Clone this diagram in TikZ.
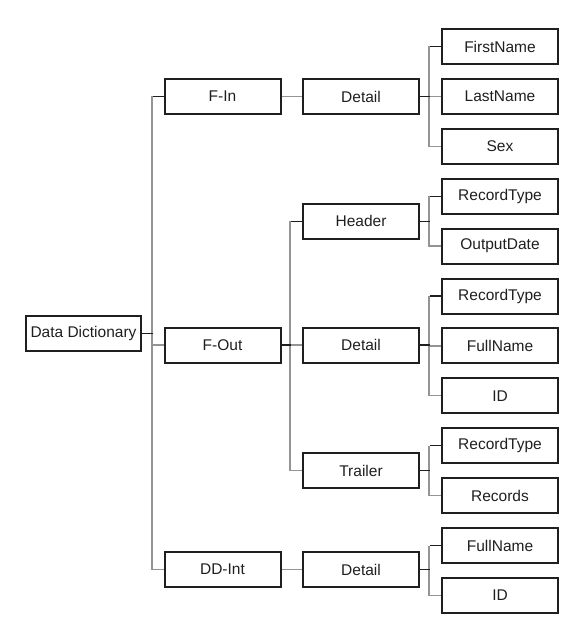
\documentclass[tikz,border=0pt]{standalone}
\usepackage{fontspec}
\setmainfont{Liberation Sans}
\tikzset{
  box/.style={draw=black!88, line width=2pt, minimum width=116pt, minimum height=35pt,
    inner sep=0pt, text=black!88, font=\fontsize{15.5}{18}\selectfont},
  bus/.style={draw=black!42, line width=1.3pt},
  stub/.style={draw=black!88, line width=1.3pt},
}
\begin{document}
\begin{tikzpicture}[x=1pt,y=-1pt]
\useasboundingbox (0,0) rectangle (581,636);

% bus lines
\coordinate (b1) at (153,0);
\coordinate (b2) at (291,0);
\coordinate (b3) at (430,0);

\node[box, minimum width=115pt] (dd) at (83.5,333.5) {Data Dictionary};

\node[box] (fin) at (222.5,96.5) {F-In};
\node[box] (fout) at (222.5,345) {F-Out};
\node[box] (ddint) at (222.5,569.5) {DD-Int};

\node[box] (indet) at (361,96.5) {Detail};
\node[box] (hdr) at (361,221.3) {Header};
\node[box] (outdet) at (361,345) {Detail};
\node[box] (trl) at (361,470.5) {Trailer};
\node[box] (intdet) at (361,569.5) {Detail};

\foreach \n/\t [count=\i from 0] in {fn/FirstName, ln/LastName, sx/Sex,
    hrt/RecordType, hod/OutputDate,
    drt/RecordType, dfn/FullName, did/ID,
    trt/RecordType, trc/Records,
    ifn/FullName, iid/ID}
  \node[box] (\n) at (500,46.5+49.9*\i) {\t};

% Data Dictionary
\draw[bus] (fin.west) ++(-11.5,0) |- (ddint.west);
\draw[bus] (fout.west) -- (fout.west -| b1);
\draw[stub] (fin.west) -- (fin.west -| b1);
\draw[stub] (dd.east) -- (dd.east -| b1);

% F-In, DD-Int
\draw[bus] (fin.east) -- (indet.west);
\draw[bus] (ddint.east) -- (intdet.west);

% F-Out
\draw[bus] (hdr.west) ++(-12,0) |- (trl.west);
\draw[bus] (outdet.west) -- (outdet.west -| b2);
\draw[stub] (hdr.west) -- (hdr.west -| b2);
\draw[stub] (fout.east) -- (fout.east -| b2);

% leaves
\foreach \p/\a/\b in {indet/fn/sx, hdr/hrt/hod, outdet/drt/did, trl/trt/trc, intdet/ifn/iid} {
  \draw[bus] (\a.west) ++(-12,0) |- (\b.west);
  \draw[stub] (\a.west) -- (\a.west -| b3);
  \draw[stub] (\p.east) -- (\p.east -| b3);
}
\foreach \c in {ln, dfn}
  \draw[bus] (\c.west) -- (\c.west -| b3);
\end{tikzpicture}
\end{document}
